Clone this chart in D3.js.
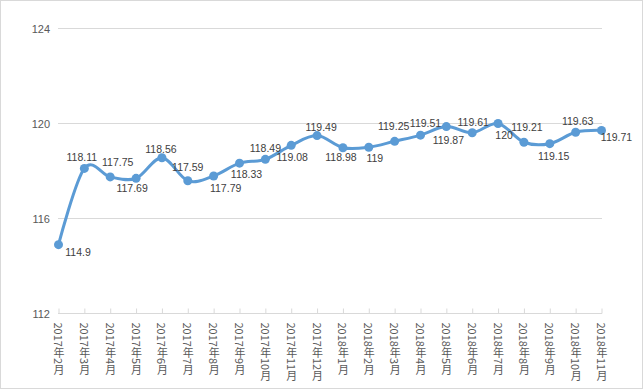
<!DOCTYPE html>
<html><head><meta charset="utf-8">
<script src="https://cdn.jsdelivr.net/npm/d3@7"></script>
<style>
html,body{margin:0;padding:0;background:#fff;}
svg{display:block;}
</style></head>
<body>
<svg id="chart" width="643" height="389"></svg>
<script>
const categories = ["2017年2月","2017年3月","2017年4月","2017年5月","2017年6月","2017年7月","2017年8月","2017年9月","2017年10月","2017年11月","2017年12月",
"2018年1月","2018年2月","2018年3月","2018年4月","2018年5月","2018年6月","2018年7月","2018年8月","2018年9月","2018年10月","2018年11月"];
const values = [114.9,118.11,117.75,117.69,118.56,117.59,117.79,118.33,118.49,119.08,119.49,
118.98,119,119.25,119.51,119.87,119.61,120,119.21,119.15,119.63,119.71];
const yTicks = [112,116,120,124];
// label placement offsets (center of label relative to point), px
const labelDx = [19.5,-2.5,7.5,-4,-1,0,12,7,0,1,4,-2,6,-1,5,2,1,6,3,4,2,15];
const labelDy = [7,-11,-15,10,-9,-14,12,11,-11,12,-9,9,11,-15,-12,13,-11,11,-15,12,-11,7];

const svg = d3.select("#chart");
const W = 643, H = 389;
svg.append("rect").attr("x",0.5).attr("y",0.5).attr("width",W-1).attr("height",H-1)
  .attr("fill","#fff").attr("stroke","#d9d9d9");

const x = d3.scalePoint().domain(categories).range([58.5,601.5]);
const y = d3.scaleLinear().domain([112,124]).range([313.5,28.5]);

// gridlines
svg.append("g").selectAll("line").data(yTicks.filter(t=>t!==112)).join("line")
  .attr("x1",58).attr("x2",602).attr("y1",d=>y(d)).attr("y2",d=>y(d))
  .attr("stroke","#d9d9d9").attr("stroke-width",1);

// y axis labels
const yAxis = d3.axisLeft(y).tickValues(yTicks).tickSize(0).tickPadding(8);
const gy = svg.append("g").attr("transform","translate(50,0)").call(yAxis);
gy.select(".domain").remove();
gy.selectAll("text").attr("font-family","'Liberation Sans',Arial,sans-serif")
  .attr("font-size","11px").attr("fill","#595959").attr("x",0);

// x axis
const xAxis = d3.axisBottom(x).tickSize(0).tickFormat("");
const gx = svg.append("g").attr("transform",`translate(0,${y(112)})`).call(xAxis);
gx.select(".domain").attr("stroke","#d9d9d9").attr("d","M58,0H602");
gx.selectAll(".tick line").remove();
gx.selectAll(".tick").append("line").attr("y1",0).attr("y2",-5).attr("stroke","#d9d9d9");
gx.selectAll(".tick").append("text")
  .text(d=>d)
  .attr("x",0).attr("y",9)
  .style("writing-mode","vertical-rl")
  .style("text-orientation","mixed")
  .attr("text-anchor","start")
  .attr("dy",null)
  .attr("font-family","'Noto Sans CJK SC','Liberation Sans',sans-serif")
  .attr("font-size","11px").attr("fill","#595959");

// line
const line = d3.line().x((d,i)=>x(categories[i])).y(d=>y(d)).curve(d3.curveCardinal.tension(0));
svg.append("path").datum(values).attr("d",line).attr("fill","none")
  .attr("stroke","#5b9bd5").attr("stroke-width",3).attr("stroke-linecap","round");

svg.append("g").selectAll("circle").data(values).join("circle")
  .attr("cx",(d,i)=>x(categories[i])).attr("cy",d=>y(d)).attr("r",4.5)
  .attr("fill","#5b9bd5");

svg.append("g").selectAll("text").data(values).join("text")
  .attr("x",(d,i)=>x(categories[i])+labelDx[i]).attr("y",(d,i)=>y(d)+labelDy[i])
  .attr("text-anchor","middle").attr("dominant-baseline","central")
  .attr("font-family","'Liberation Sans',Arial,sans-serif").attr("font-size","10.5px")
  .attr("fill","#404040").text(d=>d);
</script>
</body></html>
